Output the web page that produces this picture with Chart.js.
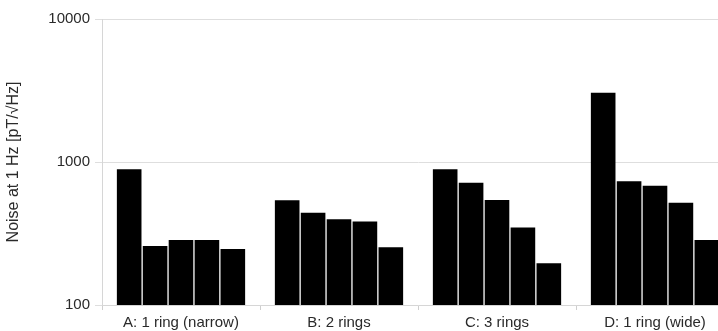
<!DOCTYPE html>
<html>
<head>
<meta charset="utf-8">
<script src="https://cdn.jsdelivr.net/npm/chart.js@4/dist/chart.umd.min.js"></script>
<style>
  html, body { margin: 0; padding: 0; background: #fff; overflow: hidden; }
  #wrap { width: 718px; height: 331px; overflow: hidden; }
</style>
</head>
<body>
<div id="wrap"><canvas id="c" width="734" height="331"></canvas></div>
<script>
// categories and the five bars of each group
const categories = ["A: 1 ring (narrow)", "B: 2 rings", "C: 3 rings", "D: 1 ring (wide)"];
const bar1 = [890, 540, 890, 3050];
const bar2 = [259, 442, 717, 733];
const bar3 = [285, 397, 542, 683];
const bar4 = [285, 383, 349, 519];
const bar5 = [246, 253, 196, 285];
const yTicks = [100, 1000, 10000];
const yTitle = "Noise at 1 Hz [pT/\u221AHz]";

const series = [bar1, bar2, bar3, bar4, bar5];

Chart.defaults.font.family = "'Liberation Sans', Arial, sans-serif";
Chart.defaults.color = "#2a2a2a";

new Chart(document.getElementById("c").getContext("2d"), {
    type: "bar",
    data: {
        labels: categories,
        datasets: series.map((d, i) => ({
            label: "bar " + (i + 1),
            data: d,
            backgroundColor: "#000",
            borderWidth: 0,
            categoryPercentage: 0.82,
            barPercentage: 0.95
        }))
    },
    options: {
        responsive: false,
        animation: false,
        layout: { padding: { top: 19, right: 0, left: 0, bottom: 0 } },
        plugins: {
            legend: { display: false },
            tooltip: { enabled: false }
        },
        scales: {
            x: {
                offset: true,
                grid: {
                    offset: true,
                    drawOnChartArea: false,
                    drawTicks: true,
                    tickLength: 5,
                    color: "#cfcfcf"
                },
                border: { color: "#d6d6d6" },
                ticks: { font: { size: 15 }, padding: 4, maxRotation: 0 },
                afterFit: s => { s.height = 26; }
            },
            y: {
                type: "logarithmic",
                min: 100,
                max: 10000,
                afterBuildTicks: s => { s.ticks = yTicks.map(v => ({ value: v })); },
                ticks: {
                    font: { size: 15 },
                    padding: 5,
                    callback: v => String(v)
                },
                grid: { color: "#dedede", tickLength: 7 },
                border: { color: "#d6d6d6" },
                title: {
                    display: true,
                    text: yTitle,
                    font: { size: 16 },
                    padding: { top: 4, bottom: 0 }
                },
                afterFit: s => { s.width = 102; }
            }
        }
    }
});
</script>
</body>
</html>
